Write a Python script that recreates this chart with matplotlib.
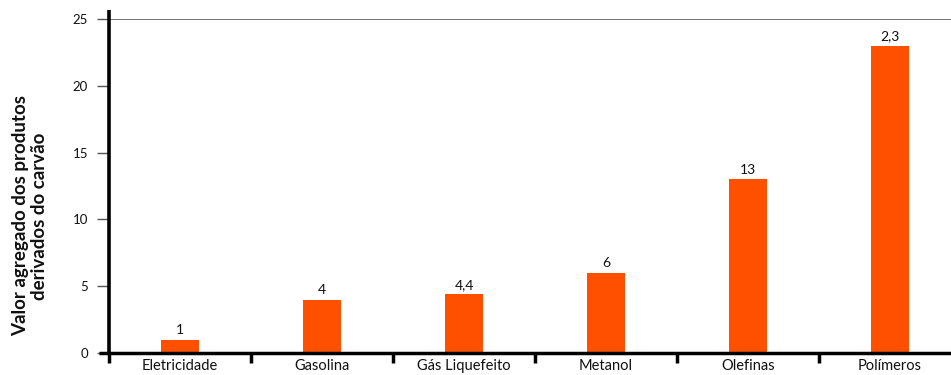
import matplotlib
matplotlib.use("Agg")
import matplotlib.pyplot as plt
from matplotlib.ticker import FixedLocator

plt.rcParams['font.family'] = ['Lato', 'DejaVu Sans']

categories = ["Eletricidade", "Gasolina", "Gás Liquefeito", "Metanol", "Olefinas", "Polímeros"]
values = [1, 4, 4.4, 6, 13, 23]
value_labels = ["1", "4", "4,4", "6", "13", "2,3"]
y_ticks = [0, 5, 10, 15, 20, 25]
y_label = "Valor agregado dos produtos\nderivados do carvão"

W, H = 951, 375
fig = plt.figure(figsize=(W / 100, H / 100), dpi=100)

left_px, right_px = 109, 961
bottom_px, top_px = 353, 19
ax = fig.add_axes([left_px / W, 1 - bottom_px / H,
                   (right_px - left_px) / W, (bottom_px - top_px) / H])

x = list(range(len(categories)))
ax.bar(x, values, width=0.27, color="#ff5000", zorder=2)

for xi, v, lab in zip(x, values, value_labels):
    ax.annotate(lab, (xi, v), xytext=(0, 2.5), textcoords="offset points",
                ha="center", va="bottom", fontsize=10, color="#111111")

ax.set_xlim(-0.5, len(categories) - 0.5)
ax.set_ylim(0, 25)

# category labels at bar centres, boundary tick marks between categories
ax.set_xticks(x)
ax.set_xticklabels(categories, fontsize=10.5, color="#111111")
ax.xaxis.set_minor_locator(FixedLocator([i - 0.5 for i in range(len(categories))]))
ax.tick_params(axis="x", which="major", length=0, pad=4)
ax.tick_params(axis="x", which="minor", length=7, width=2.5, color="black", direction="out")

ax.set_yticks(y_ticks)
ax.set_yticklabels([str(t) for t in y_ticks], fontsize=9.5, color="#111111")
ax.tick_params(axis="y", which="major", length=9, width=1, color="#555555", pad=6)

for s in ["top", "right", "left"]:
    ax.spines[s].set_visible(False)
ax.spines["bottom"].set_linewidth(2.5)
ax.spines["bottom"].set_color("black")

# upper reference line at 25
ax.axhline(25, color="#6a6a6a", linewidth=1.3, zorder=1)

# thick vertical axis line, running a little above the plot area
ax.plot([-0.5, -0.5], [0, 25 + 9 / 13.36], color="black", linewidth=2.6,
        clip_on=False, zorder=3, solid_capstyle="butt")
# baseline stub to the left of the vertical axis
ax.plot([-0.5 - 10 / 142, -0.5], [0, 0], color="black", linewidth=2.5,
        clip_on=False, zorder=3, solid_capstyle="butt")

fig.text(30 / W, 1 - 216 / H, y_label, rotation=90, ha="center", va="center",
         multialignment="center", fontsize=13.5, fontweight="bold", color="#111111",
         linespacing=1.15)

fig.savefig("out.png", dpi=100)
